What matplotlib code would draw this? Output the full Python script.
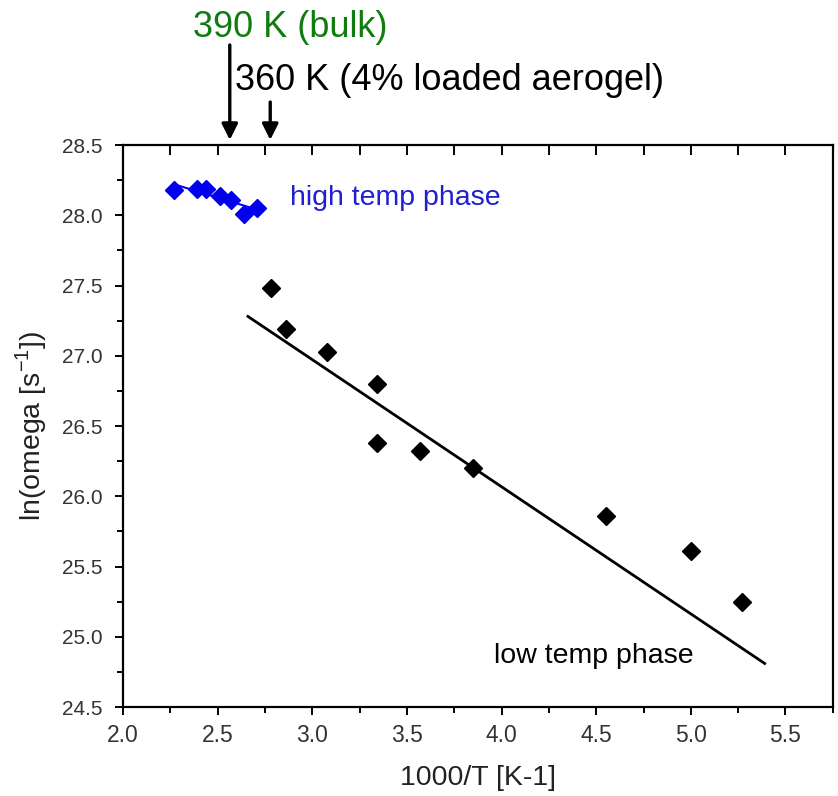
import numpy as np
import matplotlib
matplotlib.use("Agg")
import matplotlib.pyplot as plt
from matplotlib.ticker import MultipleLocator

plt.rcParams['font.family'] = ['Liberation Sans', 'DejaVu Sans']

# high temp phase (blue)
high_x = [2.27, 2.39, 2.44, 2.51, 2.57, 2.64, 2.71]
high_y = [28.18, 28.19, 28.19, 28.14, 28.11, 28.01, 28.05]

# low temp phase (black)
low_x = [2.78, 2.86, 3.08, 3.34, 3.34, 3.57, 3.85, 4.55, 5.00, 5.27]
low_y = [27.48, 27.19, 27.03, 26.80, 26.38, 26.32, 26.20, 25.86, 25.61, 25.25]

# drawn straight line for the low temp phase
fit_x = [2.66, 5.39]
fit_y = [27.28, 24.81]

# transition temperatures (K)
trans_T = [390, 360]
trans_labels = ["390 K (bulk)", "360 K (4% loaded aerogel)"]

fig = plt.figure(figsize=(8.38, 7.96), dpi=100)
ax = fig.add_axes([0.1468, 0.1118, 0.847, 0.706])

# blue fit through high-temp points
c = np.polyfit(high_x, high_y, 1)
hx = np.array([high_x[0], high_x[-1]])
ax.plot(hx, np.polyval(c, hx), color='#0000ff', lw=1.5, zorder=2)
ax.plot(high_x, high_y, 'D', color='#0000ee', ms=9, mec='#0000ee', zorder=3)

ax.plot(fit_x, fit_y, color='black', lw=2.0, zorder=2)
ax.plot(low_x, low_y, 'D', color='black', ms=9.5, zorder=3)

ax.set_xlim(2.0, 5.75)
ax.set_ylim(24.5, 28.5)
ax.xaxis.set_major_locator(MultipleLocator(0.5))
ax.xaxis.set_minor_locator(MultipleLocator(0.25))
ax.yaxis.set_major_locator(MultipleLocator(0.5))
ax.yaxis.set_minor_locator(MultipleLocator(0.25))
ax.xaxis.set_major_formatter(matplotlib.ticker.FormatStrFormatter('%.1f'))
ax.yaxis.set_major_formatter(matplotlib.ticker.FormatStrFormatter('%.1f'))

for s in ax.spines.values():
    s.set_linewidth(1.6)

ax.tick_params(axis='x', which='major', direction='out', length=6, width=1.4,
               labelsize=16.5, labelcolor='#333333', pad=6, top=True)
ax.tick_params(axis='x', which='minor', direction='out', length=4, width=1.4, top=True)
ax.tick_params(axis='y', which='major', direction='out', length=6, width=1.4,
               labelsize=15, labelcolor='#333333', pad=9)
ax.tick_params(axis='y', which='minor', direction='out', length=4, width=1.4)
# top ticks point inward
for t in ax.xaxis.get_major_ticks() + ax.xaxis.get_minor_ticks():
    t.tick2line.set_marker(3)  # TICKDOWN (inward at top)
    t.tick2line.set_markersize(7)

ax.set_xlabel('1000/T [K-1]', fontsize=20.5, color='#222222', labelpad=13)
ax.set_ylabel(r'ln(omega [s$^{\mathregular{-1}}$])', fontsize=20.5, color='#222222', labelpad=9)

ax.text(2.88, 28.12, 'high temp phase', color='#1f1fd0', fontsize=20.5, va='center', ha='left')
ax.text(3.96, 24.86, 'low temp phase', color='black', fontsize=20.5, va='center', ha='left')

trans = ax.get_xaxis_transform()
tails = [1.178, 1.0765]
for T, ty in zip(trans_T, tails):
    ax.annotate('', xy=(1000.0 / T, 1.009), xycoords=trans,
                xytext=(1000.0 / T, ty), textcoords=trans,
                arrowprops=dict(arrowstyle='-|>', lw=2.4, color='black', mutation_scale=24,
                                shrinkA=0, shrinkB=0),
                annotation_clip=False)

ax.text(2.37, 1.192, trans_labels[0], transform=trans, color='#107c10', fontsize=26,
        ha='left', va='baseline', clip_on=False)
ax.text(2.59, 1.098, trans_labels[1], transform=trans, color='black', fontsize=26,
        ha='left', va='baseline', clip_on=False)

fig.savefig('out.png', dpi=100)
